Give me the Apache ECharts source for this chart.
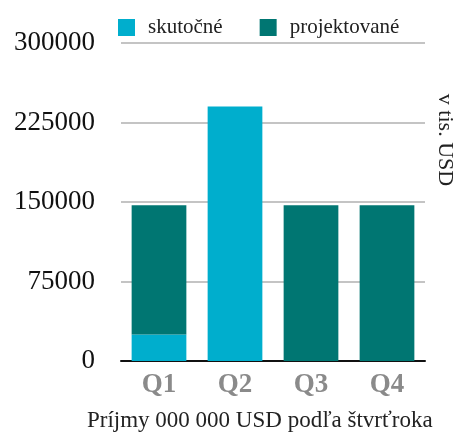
<!DOCTYPE html>
<html><head><meta charset="utf-8">
<script src="https://cdn.jsdelivr.net/npm/echarts@6/dist/echarts.min.js"></script>
<style>html,body{margin:0;padding:0;background:#fff}#c{width:462px;height:436px}</style>
</head><body><div id="c"></div>
<script>
const categories = ['Q1', 'Q2', 'Q3', 'Q4'];
const seriesNames = ['skutočné', 'projektované'];
const actualValues = [25000, 240000, 0, 0];
const projectedValues = [122000, 0, 147000, 147000];
const yTicks = [0, 75000, 150000, 225000, 300000];
const xAxisTitle = 'Príjmy 000 000 USD podľa štvrťroka';
const unitLabel = 'v tis. USD';

const FONT = '"Liberation Serif", "DejaVu Serif", serif';
const chart = echarts.init(document.getElementById('c'), null, {renderer: 'canvas'});
chart.setOption({
  animation: false,
  textStyle: {fontFamily: FONT},
  grid: {left: 121, right: 37, top: 43, bottom: 75, containLabel: false},
  legend: {
    data: seriesNames, icon: 'rect', itemWidth: 17, itemHeight: 17,
    left: 113, top: 12, itemGap: 37,
    textStyle: {fontFamily: FONT, fontSize: 21, color: '#222', padding: [0, 0, 0, 8]}
  },
  xAxis: {
    type: 'category', data: categories,
    axisLine: {lineStyle: {color: '#111', width: 2}},
    axisTick: {show: false},
    axisLabel: {fontFamily: FONT, fontSize: 27, fontWeight: 'bold', color: '#8a8a8a', margin: 11}
  },
  yAxis: {
    type: 'value', min: yTicks[0], max: yTicks[yTicks.length - 1], interval: yTicks[1] - yTicks[0],
    axisLine: {show: false}, axisTick: {show: false},
    splitLine: {lineStyle: {color: '#c4c4c4', width: 2}},
    axisLabel: {fontFamily: FONT, fontSize: 27, color: '#111', margin: 26, formatter: v => String(v)}
  },
  graphic: [
    {type: 'text', left: 87, top: 409, style: {text: xAxisTitle, font: '23px ' + FONT, fill: '#222'}},
    {type: 'text', x: 445, y: 140, rotation: -Math.PI / 2,
     style: {text: unitLabel, font: '22px ' + FONT, fill: '#222', align: 'center', verticalAlign: 'middle'}}
  ],
  series: [
    {name: seriesNames[0], type: 'bar', stack: 's', data: actualValues, barWidth: '72%',
     itemStyle: {color: '#00aecd'}},
    {name: seriesNames[1], type: 'bar', stack: 's', data: projectedValues, barWidth: '72%',
     itemStyle: {color: '#007672'}}
  ]
});
</script></body></html>
